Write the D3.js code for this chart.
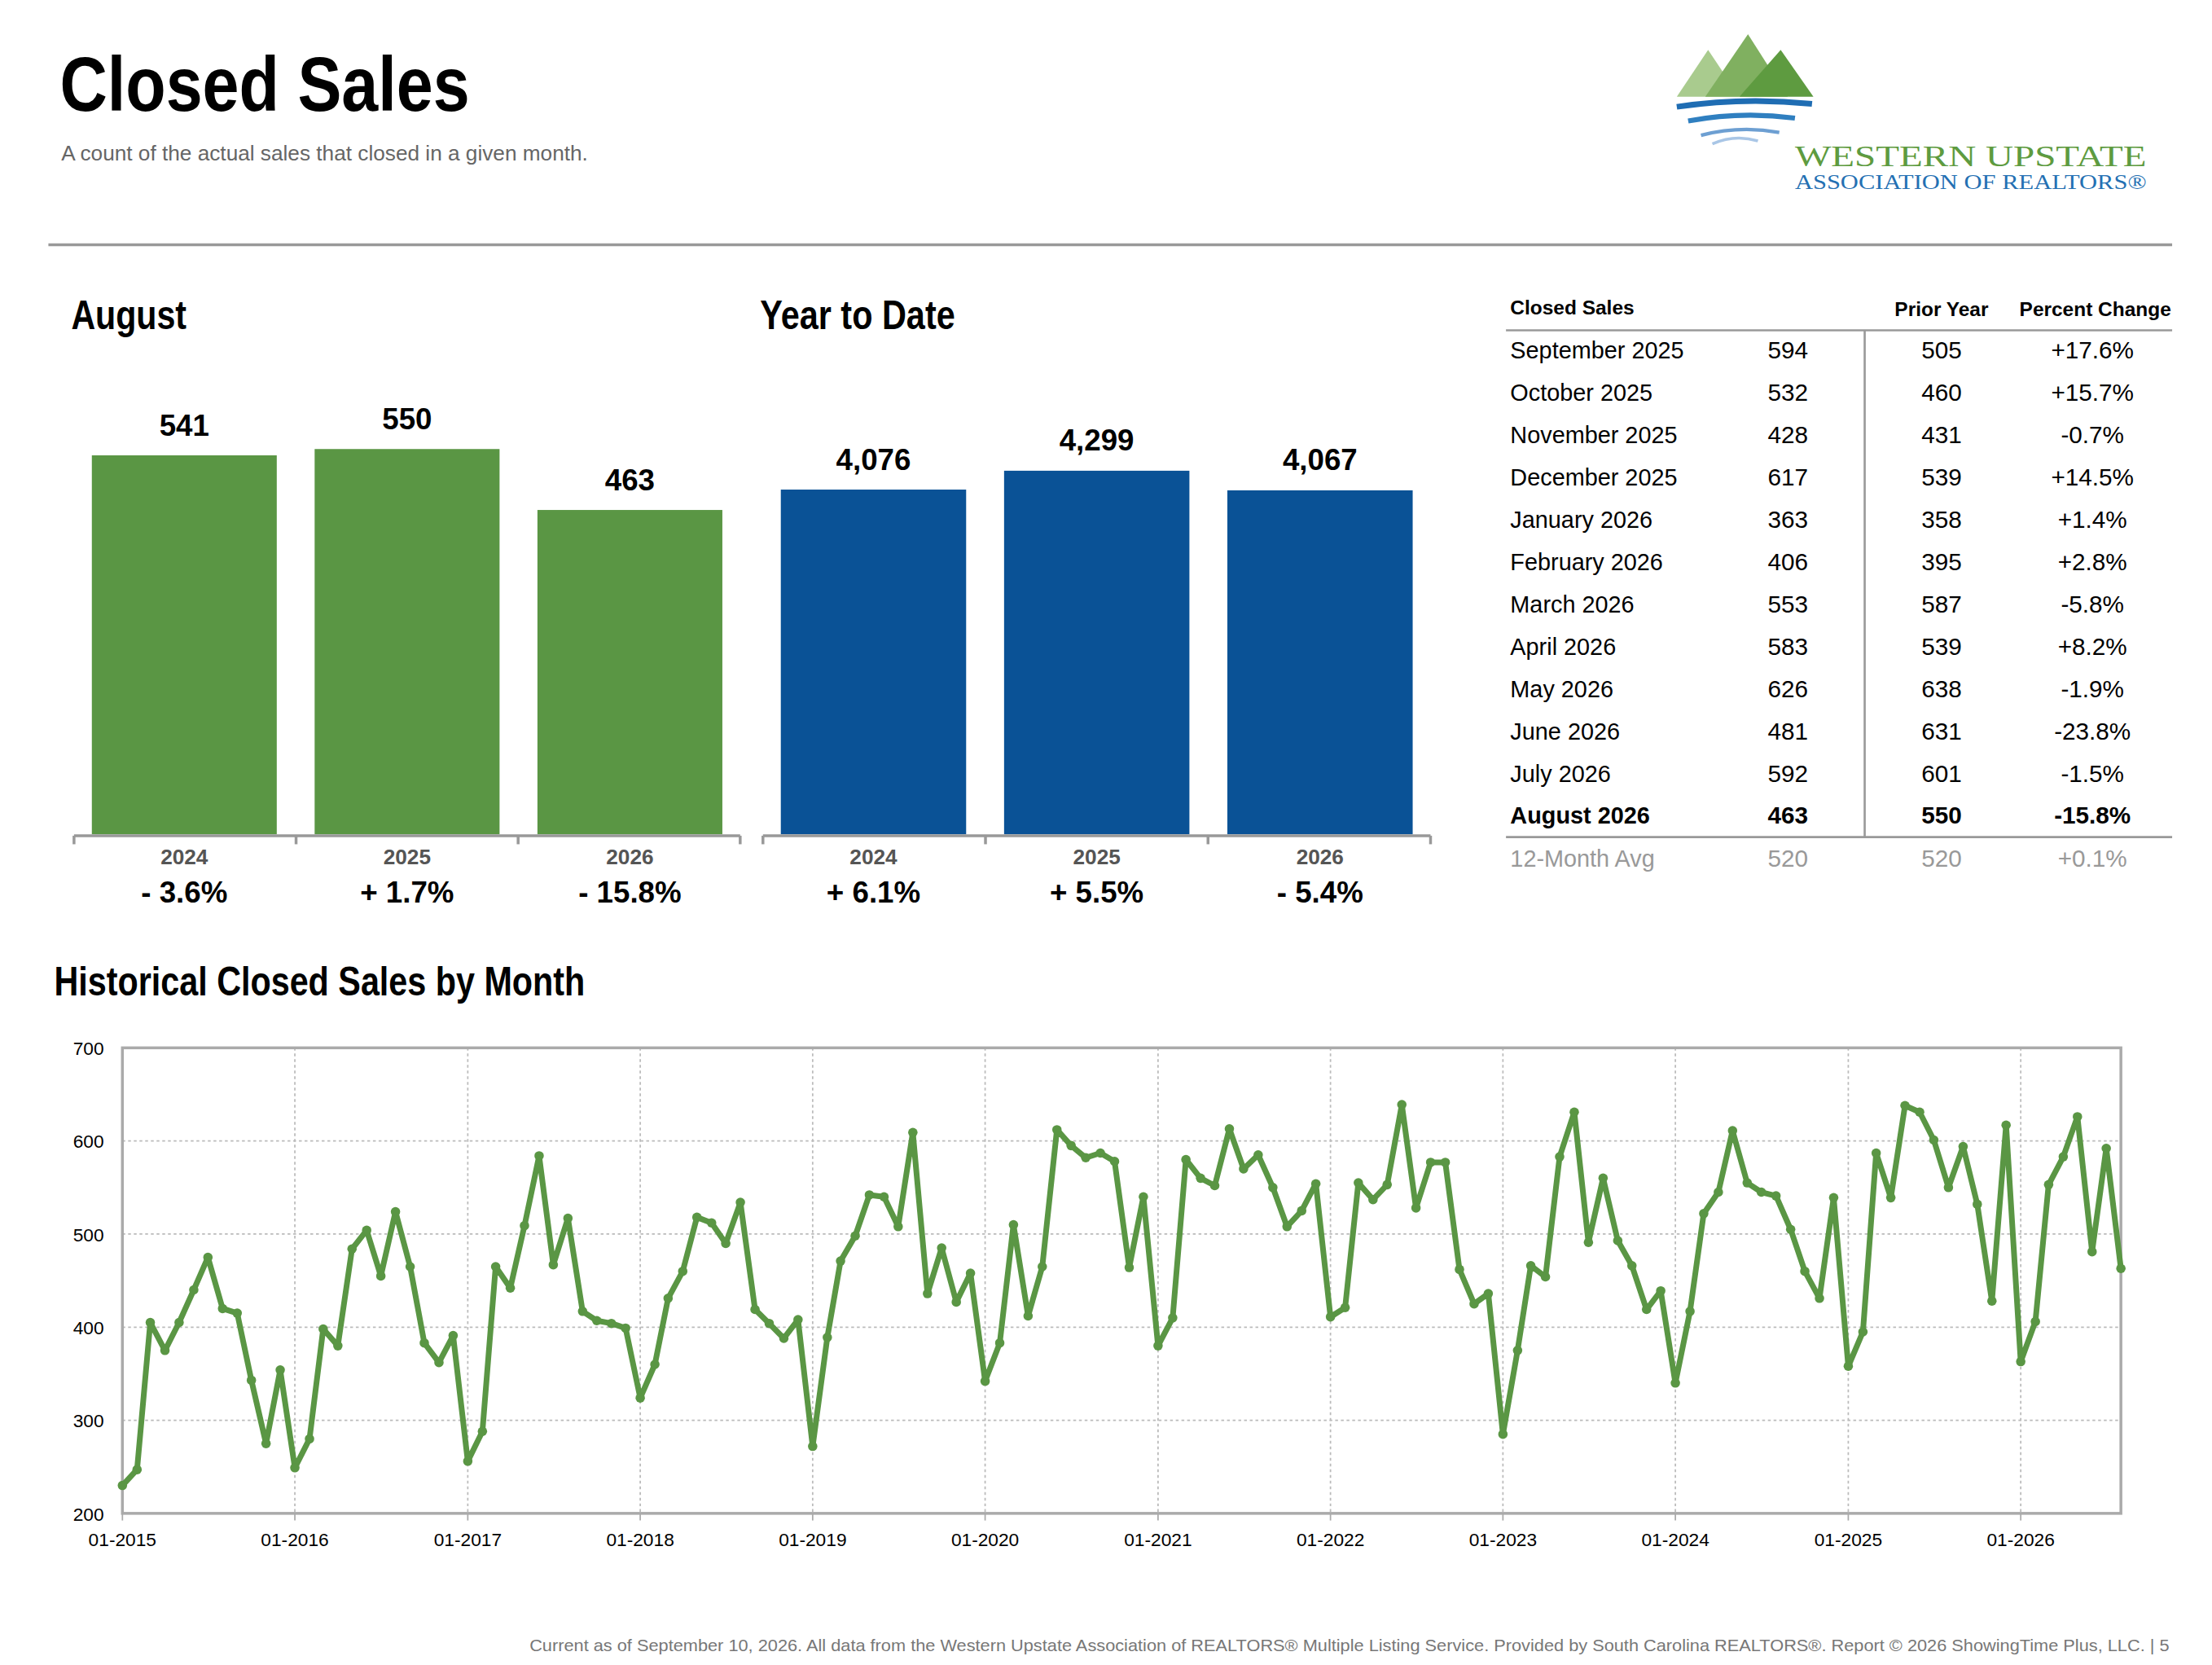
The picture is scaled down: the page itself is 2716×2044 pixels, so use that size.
<!DOCTYPE html><html><head><meta charset="utf-8"><script src="https://cdn.jsdelivr.net/npm/d3@7"></script>
<style>body{margin:0;background:#fff}svg{display:block}</style></head><body><svg id="c" width="2716" height="2044" viewBox="0 0 1554 1169.5"></svg>
<script>
const augYears=["2024","2025","2026"], augVals=[541,550,463], augPct=["- 3.6%","+ 1.7%","- 15.8%"];
const ytdVals=[4076,4299,4067], ytdPct=["+ 6.1%","+ 5.5%","- 5.4%"];
const tMonths=["September 2025","October 2025","November 2025","December 2025","January 2026","February 2026","March 2026","April 2026","May 2026","June 2026","July 2026","August 2026"];
const tCur=[594,532,428,617,363,406,553,583,626,481,592,463];
const tPrior=[505,460,431,539,358,395,587,539,638,631,601,550];
const tPct=["+17.6%","+15.7%","-0.7%","+14.5%","+1.4%","+2.8%","-5.8%","+8.2%","-1.9%","-23.8%","-1.5%","-15.8%"];
const hist=[230,247,405,375,405,440,475,420,415,343,275,354,
249,280,398,380,484,504,455,524,465,383,362,391,
256,288,465,442,509,584,467,517,417,407,404,399,
324,360,431,460,518,512,490,534,419,404,388,408,
272,389,471,498,542,540,508,609,436,485,427,458,
342,383,510,412,465,612,595,582,587,578,464,540,
380,410,580,560,552,613,570,585,550,508,525,554,
411,421,555,537,553,639,528,577,577,462,425,436,
285,375,466,454,583,631,491,560,493,466,419,439,
340,417,522,545,611,555,545,541,505,460,431,539,
358,395,587,539,638,631,601,550,594,532,428,617,
363,406,553,583,626,481,592,463];
const yTicks=[200,300,400,500,600,700];
const svg=d3.select("#c");
const F="Helvetica, Arial, 'Liberation Sans', sans-serif";
function t(x,y,s,o){const e=svg.append("text").attr("x",x).attr("y",y).text(s).attr("font-family",o.f||F).attr("font-size",o.s||14).attr("fill",o.c||"#000").attr("font-weight",o.w||"normal").attr("text-anchor",o.a||"start");if(o.len)e.attr("textLength",o.len).attr("lengthAdjust","spacingAndGlyphs");return e;}
t(42,78,"Closed Sales",{s:54,w:"bold",len:288});
t(43,113,"A count of the actual sales that closed in a given month.",{s:15,c:"#666"});
// logo
svg.append("path").attr("d","M1178,68 L1200,35 L1222,68Z").attr("fill","#a9cb8e");
svg.append("path").attr("d","M1198,68 L1228,24 L1256,68Z").attr("fill","#80b060");
svg.append("path").attr("d","M1222,68 L1251,35 L1274,68Z").attr("fill","#5e9b40");
[[75,1178,1273,"#1f6db3",4],[85,1186,1261,"#2f7fc0",3.5],[95,1195,1250,"#6d9fd2",2.5],[101,1203,1235,"#a9c6e6",2]].forEach(([y,a,b,c,w])=>svg.append("path").attr("d",`M${a},${y} Q${(a+b)/2},${y-7} ${b},${y-2}`).attr("stroke",c).attr("stroke-width",w).attr("fill","none"));
t(1261,117,"WESTERN UPSTATE",{f:"'Liberation Serif','DejaVu Serif',serif",s:21,c:"#5e9b40",len:247});
t(1261,133,"ASSOCIATION OF REALTORS®",{f:"'Liberation Serif','DejaVu Serif',serif",s:14,c:"#2470b3",len:247});
svg.append("line").attr("x1",34).attr("x2",1526).attr("y1",172).attr("y2",172).attr("stroke","#999").attr("stroke-width",2);
// bar panels
function panel(x0,x1,title,tlen,vals,pct,col,k,fmt){
  t(x0-2,231,title,{s:29,w:"bold",len:tlen});
  const x=d3.scaleBand().domain(augYears).range([x0,x1]).paddingInner(0.17).paddingOuter(0.08);
  const y=d3.scaleLinear().domain([0,1000]).range([586,586-k*1000]);
  vals.forEach((v,i)=>{const yr=augYears[i];
    svg.append("rect").attr("x",x(yr)).attr("width",x.bandwidth()).attr("y",y(v)).attr("height",586-y(v)).attr("fill",col);
    t(x(yr)+x.bandwidth()/2,y(v)-14,fmt(v),{s:21,w:"bold",a:"middle"});
    t(x(yr)+x.bandwidth()/2,607,yr,{s:15,w:"bold",c:"#555",a:"middle"});
    t(x(yr)+x.bandwidth()/2,634,pct[i],{s:21,w:"bold",a:"middle"});});
  svg.append("line").attr("x1",x0).attr("x2",x1).attr("y1",587).attr("y2",587).attr("stroke","#999").attr("stroke-width",2);
  const step=(x1-x0)/3;[0,1,2,3].forEach(i=>svg.append("line").attr("x1",x0+i*step).attr("x2",x0+i*step).attr("y1",587).attr("y2",593).attr("stroke","#999").attr("stroke-width",2));
}
panel(52,520,"August",81,augVals,augPct,"#5a9644",0.492,d3.format(","));
panel(536,1005,"Year to Date",137,ytdVals,ytdPct,"#0a5296",0.0594,d3.format(","));
// table
t(1061,221,"Closed Sales",{s:14,w:"bold"});t(1364,222,"Prior Year",{s:14,w:"bold",a:"middle"});t(1472,222,"Percent Change",{s:14,w:"bold",a:"middle"});
svg.append("line").attr("x1",1058).attr("x2",1526).attr("y1",232).attr("y2",232).attr("stroke","#999").attr("stroke-width",1.5);
const rowY=i=>252+i*29.7;
tMonths.forEach((m,i)=>{const b=i==11?"bold":"normal";t(1061,rowY(i),m,{s:16.5,w:b});t(1256,rowY(i),tCur[i],{s:17,w:b,a:"middle"});t(1364,rowY(i),tPrior[i],{s:17,w:b,a:"middle"});t(1470,rowY(i),tPct[i],{s:17,w:b,a:"middle"});});
svg.append("line").attr("x1",1310).attr("x2",1310).attr("y1",232).attr("y2",588).attr("stroke","#999").attr("stroke-width",1.5);
svg.append("line").attr("x1",1058).attr("x2",1526).attr("y1",588).attr("y2",588).attr("stroke","#999").attr("stroke-width",1.5);
const avgC=Math.round(d3.mean(tCur)),avgP=Math.round(d3.mean(tPrior));
t(1061,609,"12-Month Avg",{s:16.5,c:"#999"});t(1256,609,avgC,{s:17,c:"#999",a:"middle"});t(1364,609,avgP,{s:17,c:"#999",a:"middle"});t(1470,609,"+0.1%",{s:17,c:"#999",a:"middle"});
// line chart
t(38,699,"Historical Closed Sales by Month",{s:29,w:"bold",len:373});
const dates=hist.map((v,i)=>new Date(2015,i,1));
const X=d3.scaleTime().domain([dates[0],dates[dates.length-1]]).range([86,1490]);
const Y=d3.scaleLinear().domain([200,700]).range([1063,736]);
const yrs=d3.range(2015,2027).map(y=>new Date(y,0,1));
yrs.forEach(d=>svg.append("line").attr("x1",X(d)).attr("x2",X(d)).attr("y1",736).attr("y2",1063).attr("stroke","#bbb").attr("stroke-dasharray","2,2"));
yTicks.forEach(v=>{svg.append("line").attr("x1",86).attr("x2",1490).attr("y1",Y(v)).attr("y2",Y(v)).attr("stroke","#bbb").attr("stroke-dasharray","2,2");t(73,Y(v)+5,v,{s:13,a:"end"});});
svg.append("rect").attr("x",86).attr("y",736).attr("width",1404).attr("height",327).attr("fill","none").attr("stroke","#aaa").attr("stroke-width",2);
yrs.forEach(d=>{svg.append("line").attr("x1",X(d)).attr("x2",X(d)).attr("y1",1063).attr("y2",1068).attr("stroke","#aaa");t(X(d),1086,d3.timeFormat("%m-%Y")(d),{s:13,a:"middle"});});
svg.append("path").datum(hist).attr("d",d3.line().x((v,i)=>X(dates[i])).y(v=>Y(v))).attr("fill","none").attr("stroke","#5a9644").attr("stroke-width",4).attr("stroke-linejoin","round");
svg.selectAll("circle.p").data(hist).enter().append("circle").attr("cx",(v,i)=>X(dates[i])).attr("cy",v=>Y(v)).attr("r",3.3).attr("fill","#5a9644");
t(372,1160,"Current as of September 10, 2026. All data from the Western Upstate Association of REALTORS® Multiple Listing Service. Provided by South Carolina REALTORS®. Report © 2026 ShowingTime Plus, LLC.  |  5",{s:12,c:"#777",len:1152});
</script></body></html>
